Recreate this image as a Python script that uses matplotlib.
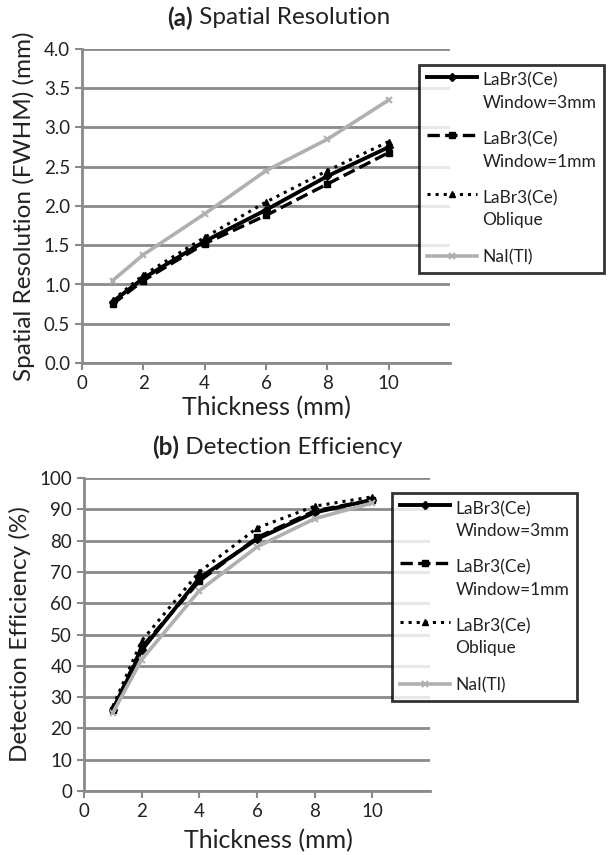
import numpy as np
import matplotlib
matplotlib.use("Agg")
import matplotlib.pyplot as plt
from matplotlib.legend_handler import HandlerLine2D

plt.rcParams['font.family'] = ['Lato', 'DejaVu Sans']

thickness = [1, 2, 4, 6, 8, 10]
labels = ["LaBr3(Ce)\nWindow=3mm", "LaBr3(Ce)\nWindow=1mm", "LaBr3(Ce)\nOblique", "NaI(Tl)"]

# (a) spatial resolution, mm
res_w3 = [0.78, 1.08, 1.55, 1.95, 2.38, 2.75]
res_w1 = [0.75, 1.05, 1.52, 1.88, 2.28, 2.68]
res_obl = [0.80, 1.12, 1.60, 2.05, 2.45, 2.82]
res_nai = [1.05, 1.38, 1.90, 2.45, 2.85, 3.35]

# (b) detection efficiency, %
eff_w3 = [26, 45, 68, 80.5, 89, 93]
eff_w1 = [26, 46, 67, 81, 89.5, 93]
eff_obl = [27, 48, 70, 84, 91, 94]
eff_nai = [25, 42, 64, 78, 87, 92]

styles = [
    dict(color='black', ls='-', lw=2.8, marker='D', ms=4),
    dict(color='black', ls='--', lw=2.4, marker='s', ms=5),
    dict(color='black', ls=':', lw=2.2, marker='^', ms=5),
    dict(color='#b0b0b0', ls='-', lw=2.6, marker='x', ms=5, mew=1.5),
]

grid_col = '#8a8a8a'
text_col = '#222222'
leg_fs = 12.5


class HandlerFirstLine(HandlerLine2D):
    # put the legend line next to the first row of a two-row label
    def __init__(self, dy, **kw):
        super().__init__(**kw)
        self.dy = dy

    def create_artists(self, legend, orig_handle, xdescent, ydescent, width, height, fontsize, trans):
        arts = super().create_artists(legend, orig_handle, xdescent, ydescent, width, height, fontsize, trans)
        for a in arts:
            a.set_ydata(np.asarray(a.get_ydata()) + self.dy)
        return arts


def setup(ax, ylim, yticks, fmt):
    ax.set_xlim(0, 12)
    ax.set_ylim(*ylim)
    ax.set_xticks([0, 2, 4, 6, 8, 10])
    ax.set_yticks(yticks)
    ax.set_yticklabels([fmt.format(v) for v in yticks])
    for s in ['top', 'right']:
        ax.spines[s].set_visible(False)
    for s in ['left', 'bottom']:
        ax.spines[s].set_color(grid_col)
        ax.spines[s].set_linewidth(2)
    ax.yaxis.grid(True, color=grid_col, lw=2)
    ax.set_axisbelow(True)
    ax.tick_params(colors=grid_col, width=1.5, length=5, labelsize=13.5, labelcolor=text_col)


def add_legend(ax, handles, x, y):
    hmap = {h: HandlerFirstLine(0.9 * leg_fs) for h in handles[:3]}
    leg = ax.legend(handles=handles, loc='upper left', bbox_to_anchor=(x / 609, 1 - y / 855),
                    bbox_transform=fig.transFigure, fontsize=leg_fs, frameon=True, fancybox=False,
                    handlelength=2.9, labelspacing=1.2, borderpad=0.45, handletextpad=0.3,
                    borderaxespad=0, handler_map=hmap)
    leg.get_frame().set_edgecolor('black')
    leg.get_frame().set_linewidth(2)
    for t in leg.get_texts():
        t.set_linespacing(1.45)
        t.set_color(text_col)
    return leg


fig = plt.figure(figsize=(6.09, 8.55), dpi=100)

ax1 = fig.add_axes([82 / 609, 1 - 363 / 855, 368 / 609, 314 / 855])
setup(ax1, (0, 4.0), np.arange(0, 4.01, 0.5), "{:.1f}")
h1 = []
for y, st, lb in zip([res_w3, res_w1, res_obl, res_nai], styles, labels):
    h1 += ax1.plot(thickness, y, label=lb, **st)
ax1.set_ylabel("Spatial Resolution (FWHM) (mm)", fontsize=17.5, color=text_col, labelpad=6)
ax1.set_xlabel("Thickness (mm)", fontsize=18, color=text_col, labelpad=3)
add_legend(ax1, h1, 419, 65)

ax2 = fig.add_axes([84 / 609, 1 - 791 / 855, 346 / 609, 313 / 855])
setup(ax2, (0, 100), np.arange(0, 101, 10), "{:.0f}")
h2 = []
for y, st, lb in zip([eff_w3, eff_w1, eff_obl, eff_nai], styles, labels):
    h2 += ax2.plot(thickness, y, label=lb, **st)
ax2.set_ylabel("Detection Efficiency (%)", fontsize=17.5, color=text_col, labelpad=6)
ax2.set_xlabel("Thickness (mm)", fontsize=18, color=text_col)
ax2.xaxis.set_label_coords(0.532, -0.12)
add_legend(ax2, h2, 392, 493)

# titles with bold panel letter
for letter, rest, x0, ty in [("(a)", " Spatial Resolution", 167, 18), ("(b)", " Detection Efficiency", 152, 447)]:
    tb = fig.text(x0 / 609, 1 - ty / 855, letter, fontsize=17.5, fontweight='bold',
                  ha='left', va='center', color=text_col)
    plt.annotate(rest, xy=(1, 0.5), xycoords=tb, ha='left', va='center', fontsize=17.5,
                 color=text_col, annotation_clip=False)

fig.savefig("out.png", dpi=100)
